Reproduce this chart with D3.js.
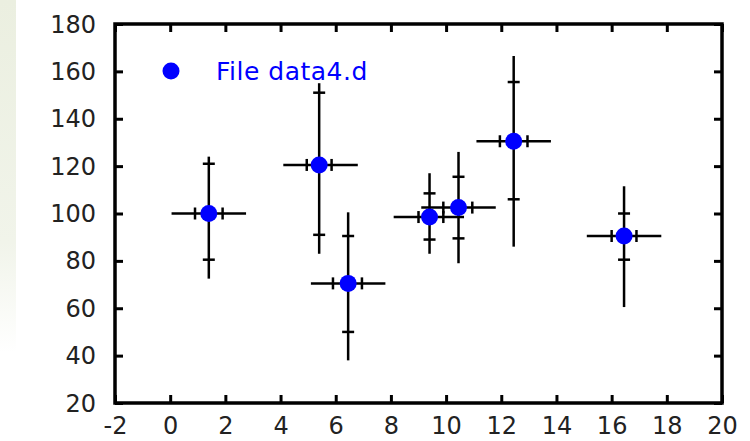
<!DOCTYPE html>
<html>
<head>
<meta charset="utf-8">
<script src="https://cdn.jsdelivr.net/npm/d3@7"></script>
<style>
  body { margin: 0; background: #fff; }
  svg text { font-family: "DejaVu Sans", sans-serif; }
</style>
</head>
<body>
<div id="chart"></div>
<script>
// point centres
const xs = [1.4, 5.4, 6.45, 9.4, 10.45, 12.45, 16.45];
const ys = [100, 120.5, 70.5, 98.5, 102.5, 130.5, 90.5];
// x error bar ends and inner marks
const xLow = [0.05, 4.1, 5.1, 8.1, 9.1, 11.1, 15.1];
const xHigh = [2.75, 6.8, 7.8, 10.65, 11.8, 13.8, 17.8];
const xMarkLow = [0.9, 4.95, 5.9, 9.0, 9.9, 11.95, 16.0];
const xMarkHigh = [1.9, 5.85, 6.95, 9.9, 10.95, 12.95, 16.9];
// y error bar ends and inner marks
const yLow = [72.5, 83, 38, 83, 79, 86, 60.5];
const yHigh = [124, 155, 100.5, 117, 126, 166.5, 111.5];
const yMarkLow = [80.5, 91, 50, 89, 89.5, 106, 80.5];
const yMarkHigh = [121, 151, 90.5, 108.5, 115.5, 155.5, 100];

const xTicks = d3.range(-2, 21, 2);
const yTicks = d3.range(20, 181, 20);
const legendLabel = "File data4.d";

const data = xs.map((x, i) => ({
    x, y: ys[i],
    xl: xLow[i], xh: xHigh[i], xml: xMarkLow[i], xmh: xMarkHigh[i],
    yl: yLow[i], yh: yHigh[i], yml: yMarkLow[i], ymh: yMarkHigh[i]
}));

const svgWidth = 750, svgHeight = 441;
const margin = {top: 24, right: 28, bottom: 38, left: 115};
const chartWidth = 722 - margin.left;
const chartHeight = 403 - margin.top;

const svg = d3.select("#chart").append("svg")
    .attr("width", svgWidth)
    .attr("height", svgHeight);

// faint green strip on the left edge
const defs = svg.append("defs");
const grad = defs.append("linearGradient").attr("id", "strip")
    .attr("x1", 0).attr("y1", 0).attr("x2", 0).attr("y2", 1);
grad.append("stop").attr("offset", "0%").attr("stop-color", "#ebefe0");
grad.append("stop").attr("offset", "55%").attr("stop-color", "#f1f4ea");
grad.append("stop").attr("offset", "80%").attr("stop-color", "#ffffff");
svg.append("rect").attr("x", 0).attr("y", 0).attr("width", 16).attr("height", svgHeight)
    .attr("fill", "url(#strip)");

const g = svg.append("g").attr("transform", `translate(${margin.left}, ${margin.top})`);

const xScale = d3.scaleLinear().domain([-2, 20]).range([0, chartWidth]);
const yScale = d3.scaleLinear().domain([20, 180]).range([chartHeight, 0]);

// axes with inward ticks, mirrored on all sides
const tickLen = 8;
const plain = d => String(d);
const axisStyle = sel => {
    sel.select(".domain").remove();
    sel.selectAll(".tick line").attr("stroke", "#000").attr("stroke-width", 3);
    sel.selectAll(".tick text").attr("fill", "#222").style("font-size", "24px");
};

g.append("g").attr("transform", `translate(0, ${chartHeight})`)
    .call(d3.axisBottom(xScale).tickValues(xTicks).tickSize(-tickLen).tickPadding(23).tickFormat(plain))
    .call(axisStyle);
g.append("g")
    .call(d3.axisTop(xScale).tickValues(xTicks).tickSize(-tickLen).tickFormat(""))
    .call(axisStyle);
g.append("g")
    .call(d3.axisLeft(yScale).tickValues(yTicks).tickSize(-tickLen).tickPadding(19).tickFormat(plain))
    .call(axisStyle);
g.append("g").attr("transform", `translate(${chartWidth}, 0)`)
    .call(d3.axisRight(yScale).tickValues(yTicks).tickSize(-tickLen).tickFormat(""))
    .call(axisStyle);

g.selectAll(".tick text").attr("dy", null).attr("dominant-baseline", "central");

g.append("rect")
    .attr("width", chartWidth).attr("height", chartHeight)
    .attr("fill", "none").attr("stroke", "#000").attr("stroke-width", 3.5);

// error bars
const bars = g.append("g").attr("stroke", "#000").attr("stroke-width", 2.5);
const mark = 6;
data.forEach(d => {
    const cx = xScale(d.x), cy = yScale(d.y);
    bars.append("line").attr("x1", xScale(d.xl)).attr("x2", xScale(d.xh)).attr("y1", cy).attr("y2", cy);
    bars.append("line").attr("x1", cx).attr("x2", cx).attr("y1", yScale(d.yl)).attr("y2", yScale(d.yh));
    [d.xml, d.xmh].forEach(v => bars.append("line")
        .attr("x1", xScale(v)).attr("x2", xScale(v)).attr("y1", cy - mark).attr("y2", cy + mark));
    [d.yml, d.ymh].forEach(v => bars.append("line")
        .attr("x1", cx - mark).attr("x2", cx + mark).attr("y1", yScale(v)).attr("y2", yScale(v)));
});

g.selectAll("circle.pt").data(data).enter().append("circle")
    .attr("class", "pt")
    .attr("cx", d => xScale(d.x))
    .attr("cy", d => yScale(d.y))
    .attr("r", 8.5)
    .attr("fill", "#0000ff");

// legend
svg.append("circle").attr("cx", 171).attr("cy", 71).attr("r", 8.5).attr("fill", "#0000ff");
svg.append("text").attr("x", 216).attr("y", 80)
    .attr("fill", "#0000ff").style("font-size", "25px").style("letter-spacing", "0.5px")
    .text(legendLabel);
</script>
</body>
</html>
